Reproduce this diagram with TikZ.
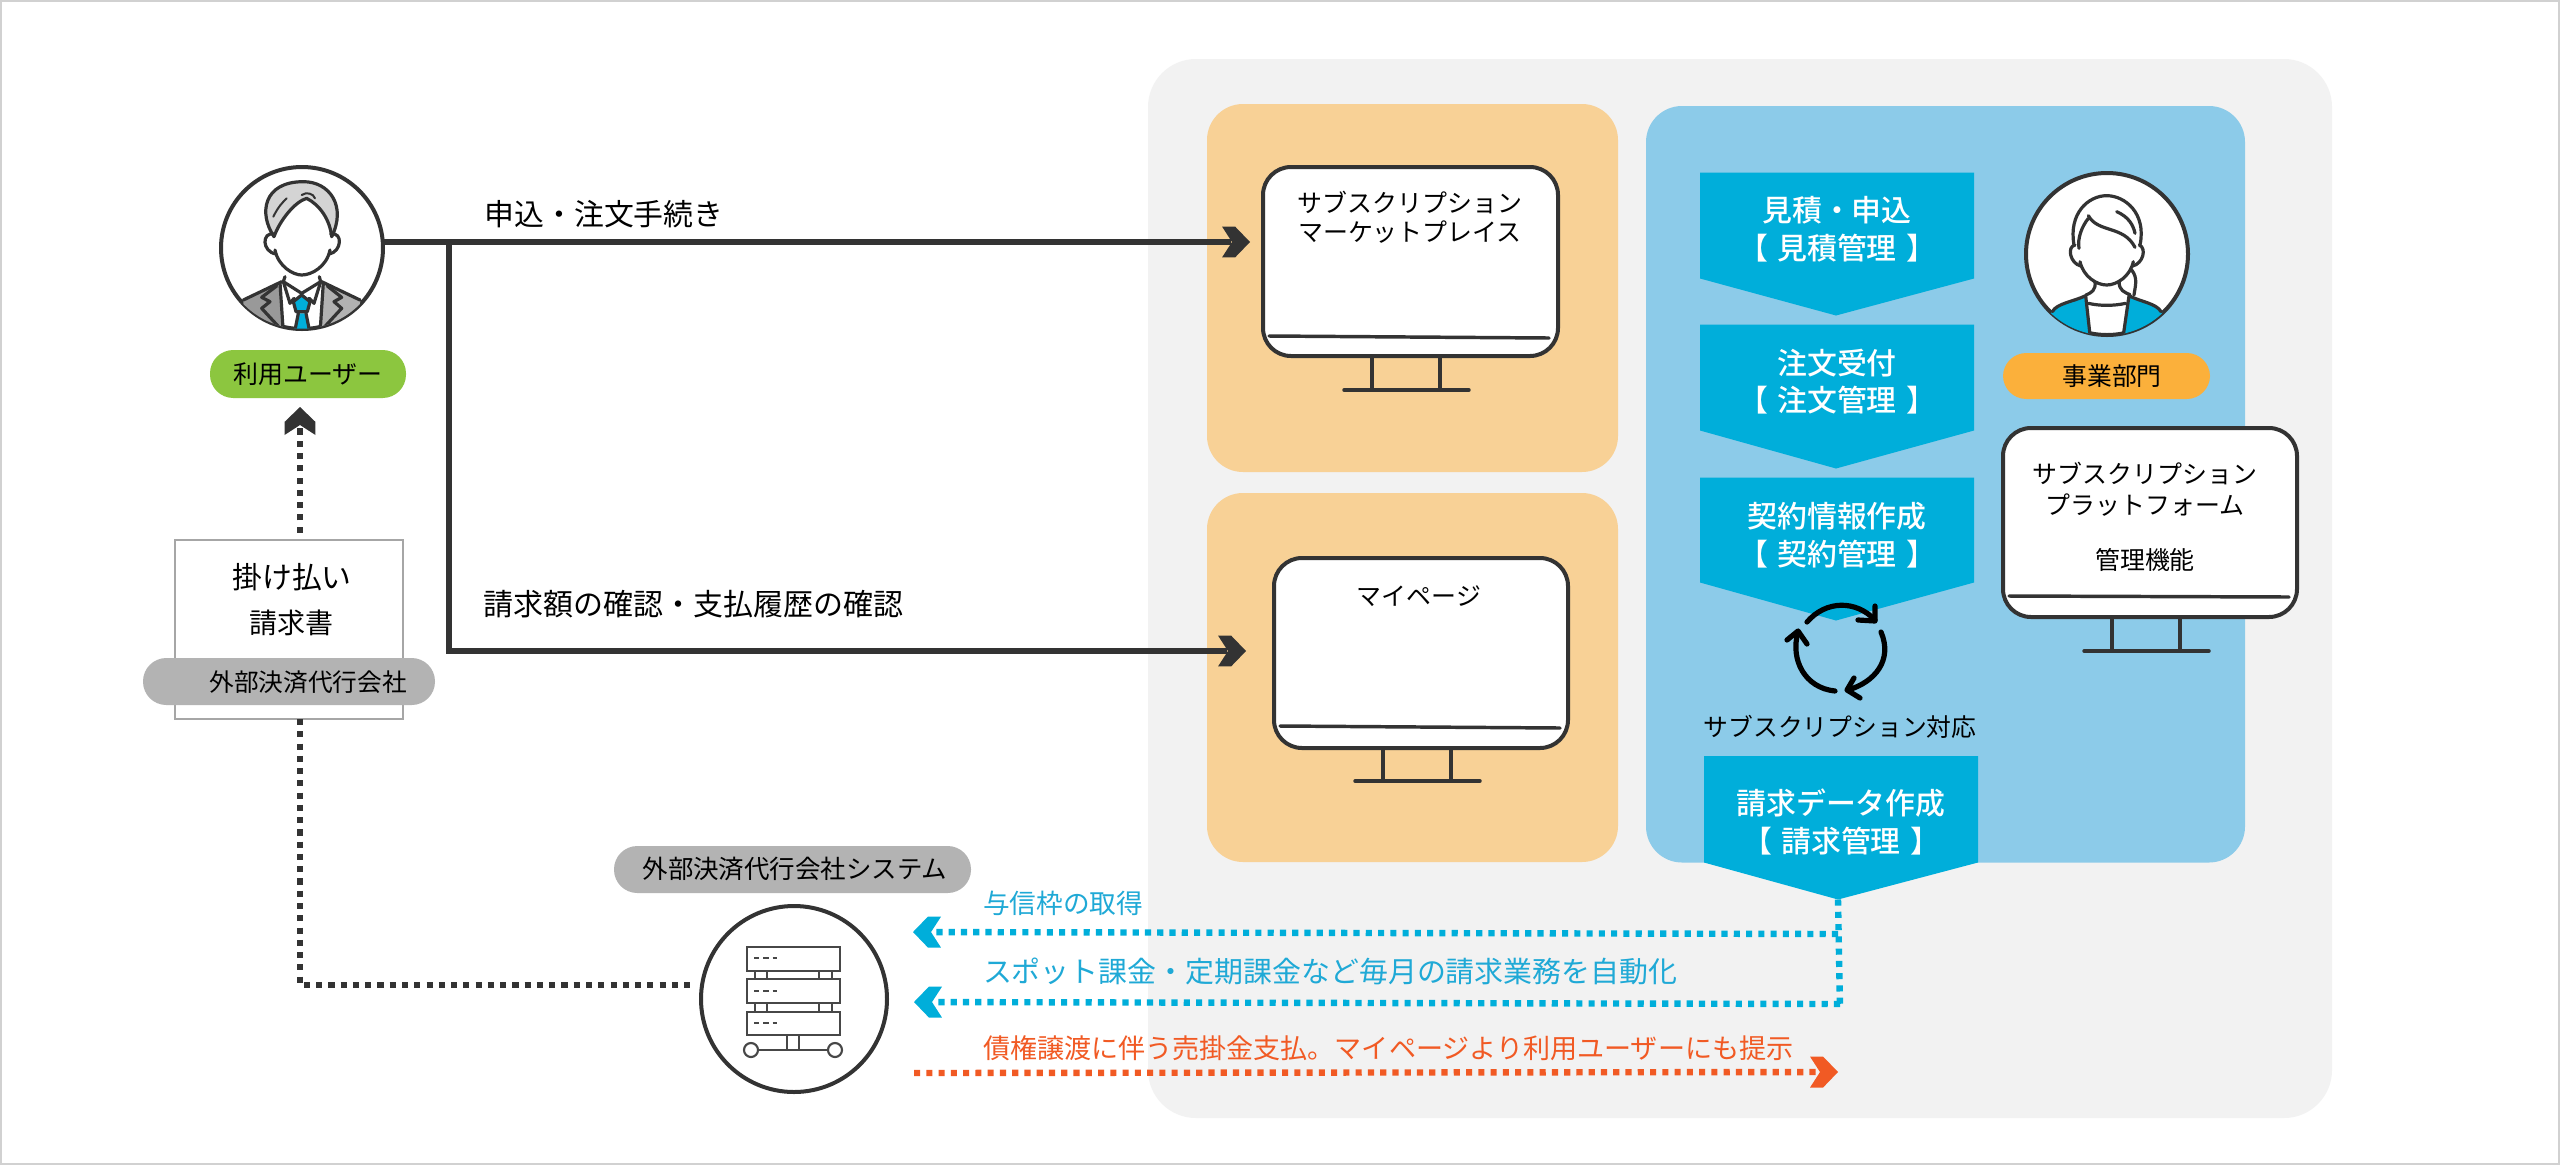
\documentclass[tikz,border=0pt]{standalone}
\usepackage{fontspec}
\setmainfont{Noto Sans CJK JP}
\newfontfamily\medfont{Noto Sans CJK JP Medium}
\usetikzlibrary{arrows.meta}
\definecolor{dk}{HTML}{333333}
\definecolor{panel}{HTML}{F2F2F2}
\definecolor{orpanel}{HTML}{F8D196}
\definecolor{blpanel}{HTML}{8CCBE9}
\definecolor{cy}{HTML}{00AEDA}
\definecolor{cytxt}{HTML}{1FA9D6}
\definecolor{grn}{HTML}{8CC63F}
\definecolor{amb}{HTML}{FBB03B}
\definecolor{gry}{HTML}{B3B3B3}
\definecolor{orn}{HTML}{F15A24}
\pgfdeclarearrow{
  name=Chev,
  setup code={
    \pgfarrowssettipend{0pt}
    \pgfarrowssetlineend{-14pt}
    \pgfarrowssetvisualbackend{-14pt}
    \pgfarrowssetbackend{-21pt}
    \pgfarrowshullpoint{0pt}{0pt}
    \pgfarrowsupperhullpoint{-21pt}{11.6pt}
  },
  drawing code={
    \pgfpathmoveto{\pgfpoint{0pt}{0pt}}
    \pgfpathlineto{\pgfpoint{-11.2pt}{11.6pt}}
    \pgfpathlineto{\pgfpoint{-21pt}{11.6pt}}
    \pgfpathlineto{\pgfpoint{-13.5pt}{0pt}}
    \pgfpathlineto{\pgfpoint{-21pt}{-11.6pt}}
    \pgfpathlineto{\pgfpoint{-11.2pt}{-11.6pt}}
    \pgfpathclose
    \pgfusepathqfill
  }
}
\tikzset{
  fs/.style={font=\fontsize{#1}{#1}\selectfont},
  sized/.style 2 args={minimum width=#1*0.75pt,minimum height=#2*0.75pt,inner sep=0pt,outer sep=0pt},
  txt/.style={inner sep=0pt,outer sep=0pt,align=center,text=black},
  pill/.style={rounded corners=17.5pt,fill=#1},
  roundpanel/.style={rounded corners=#1*0.75pt},
  solidconn/.style={color=dk,line width=5pt,-{Chev},line join=miter},
  dotconn/.style={line width=4.8pt,dash pattern=on 4.6pt off 4.6pt},
  monitor/.style={draw=dk,fill=white,line width=3pt,rounded corners=21pt},
  standline/.style={draw=dk,line width=2.6pt,line cap=round},
  srv/.style={draw=dk!90,line width=1.6pt},
  headring/.style={circle,draw=dk,fill=white,line width=3pt,minimum size=162*0.75pt,inner sep=0pt,outer sep=0pt},
  ic/.style={draw=dk,line width=2.4pt,line cap=round,line join=round},
  chevbox/.style={fill=cy},
  boxtxt/.style={txt,text=white,font=\medfont\fontsize{22.4}{22.4}\selectfont},
  cyc/.style={draw=black,line width=3.9pt,line cap=round,line join=round},
}
\newcommand{\brk}[1]{【\hspace{7pt}#1\hspace{7pt}】}
\begin{document}
\begin{tikzpicture}[x=0.75pt,y=-0.75pt]
\path[use as bounding box] (0,0) rectangle (2560,1165);
\fill[white] (0,0) rectangle (2560,1165);
\draw[draw=black!18,line width=1pt] (1,1) rectangle (2559,1164);
% panels
\fill[panel,roundpanel=48] (1148,59) rectangle (2332,1118);
\fill[orpanel,roundpanel=36] (1207,104) rectangle (1618,472);
\fill[orpanel,roundpanel=36] (1207,493) rectangle (1618,862);
\fill[blpanel,roundpanel=36] (1646,106) rectangle (2245,862.5);

% monitors
\node[monitor,sized={295}{189}] (m1) at (1410.5,261.5) {};
\node[monitor,sized={294}{190}] (m2) at (1421,653) {};
\node[monitor,sized={294}{189}] (m3) at (2150,522.5) {};
\draw[standline] (1269,336) -- (1549,338);
\draw[standline] (1372,356) -- (1372,390) (1440,356) -- (1440,390) (1344,390) -- (1469,390);
\draw[standline] (1280,726) -- (1560,728);
\draw[standline] (1383,748) -- (1383,781) (1451,748) -- (1451,781) (1355,781) -- (1480,781);
\draw[standline] (2009,596) -- (2289,597);
\draw[standline] (2112,617) -- (2112,651) (2180,617) -- (2180,651) (2084,651) -- (2209,651);
\node[txt,fs=18.7] (m1a) at (1410,203) {サブスクリプション};
\node[txt,fs=18.7] (m1b) at (1410,232) {マーケットプレイス};
\node[txt,fs=18.7] (m2a) at (1419,596) {マイページ};
\node[txt,fs=18.7] (m3a) at (2145,474) {サブスクリプション};
\node[txt,fs=18.7] (m3b) at (2145,505) {プラットフォーム};
\node[txt,fs=18.7] (m3c) at (2145,560) {管理機能};

% chevron boxes
\fill[chevbox] (1700,172.5) -- (1974,172.5) -- (1974,278.5) -- (1836,315.5) -- (1700,278.5) -- cycle;
\fill[chevbox] (1700,324.5) -- (1974,324.5) -- (1974,430.5) -- (1836,468.5) -- (1700,430.5) -- cycle;
\fill[chevbox] (1700,477.5) -- (1974,477.5) -- (1974,582.5) -- (1836,620.5) -- (1700,582.5) -- cycle;
\fill[chevbox] (1704,756) -- (1978,756) -- (1978,862.5) -- (1838,899.5) -- (1704,862.5) -- cycle;
\coordinate (b4tip) at (1838,899.5);
\node[boxtxt] (b1a) at (1837,210) {見積・申込};
\node[boxtxt] (b1b) at (1837,248) {\brk{見積管理}};
\node[boxtxt] (b2a) at (1837,363) {注文受付};
\node[boxtxt] (b2b) at (1837,400) {\brk{注文管理}};
\node[boxtxt] (b3a) at (1837,516) {契約情報作成};
\node[boxtxt] (b3b) at (1837,554) {\brk{契約管理}};
\node[boxtxt] (b4a) at (1841,803) {請求データ作成};
\node[boxtxt] (b4b) at (1841,841) {\brk{請求管理}};

% cycle icon
\draw[cyc] (1807,622) .. controls (1826,600) and (1856,600) .. (1875,620);
\draw[cyc] (1858,620) -- (1875,621) -- (1875,606);
\draw[cyc] (1881,632) .. controls (1893,660) and (1875,682) .. (1848,690);
\draw[cyc] (1854,678) -- (1847,690) -- (1860,698);
\draw[cyc] (1835,691) .. controls (1805,688) and (1790,660) .. (1798,632);
\draw[cyc] (1787,640) -- (1798,631) -- (1807,644);
\node[txt,fs=18.6] (cyctxt) at (1840,727) {サブスクリプション対応};

% man icon
\node[headring] (user) at (302,248) {};
\begin{scope}[shift={(130,130)},x=0.25pt,y=-0.25pt]
  \begin{scope}
    \clip (515,353) circle (243);
    \fill[black!40] (340,510) -- (450,458) -- (460,610) -- (340,610) -- cycle;
    \fill[black!30] (690,510) -- (580,458) -- (570,610) -- (690,610) -- cycle;
    \draw[ic] (340,510) -- (455,455) (690,510) -- (575,455);
    \draw[ic] (440,468) -- (395,502) -- (420,515) -- (395,535) -- (455,600);
    \draw[ic] (592,468) -- (635,502) -- (612,515) -- (635,535) -- (575,600);
    \draw[ic] (450,458) -- (460,610) (580,458) -- (570,610);
    \fill[cy] (515,495) -- (490,515) -- (498,545) -- (532,545) -- (540,515) -- cycle;
    \fill[cy] (505,550) -- (528,550) -- (540,605) -- (490,605) -- cycle;
    \draw[ic] (515,495) -- (490,515) -- (498,545) -- (532,545) -- (540,515) -- cycle;
    \draw[ic] (505,550) -- (495,600) (528,550) -- (538,600);
    \draw[ic] (465,440) -- (460,455) -- (515,490) -- (572,455) -- (568,440);
    \draw[ic] (460,455) -- (480,520) -- (492,505) (572,455) -- (552,520) -- (538,505);
  \end{scope}
  \fill[black!17] (432,320) .. controls (385,250) and (400,155) .. (520,155) .. controls (600,155) and (650,230) .. (605,320) .. controls (600,270) and (570,225) .. (530,205) .. controls (495,215) and (450,270) .. (432,320) -- cycle;
  \draw[ic] (432,320) .. controls (385,250) and (400,155) .. (520,155) .. controls (600,155) and (650,230) .. (605,320);
  \draw[ic] (432,320) .. controls (450,270) and (495,215) .. (530,205) .. controls (570,225) and (600,270) .. (605,320);
  \draw[ic,line width=1.5pt] (430,260) .. controls (445,230) and (455,220) .. (470,205);
  \draw[ic,line width=1.5pt] (515,195) .. controls (530,185) and (550,190) .. (555,205);
  \draw[ic] (435,360) .. controls (445,410) and (490,435) .. (515,435) .. controls (545,435) and (590,410) .. (600,360);
  \draw[ic] (432,312) .. controls (395,305) and (395,365) .. (438,372);
  \draw[ic] (602,312) .. controls (640,305) and (635,365) .. (598,372);
\end{scope}
\node[pill=grn,sized={196}{48}] (userpill) at (308,374) {};
\node[txt,fs=18.7] (usertxt) at (308,374) {利用ユーザー};

% woman icon
\node[headring] (biz) at (2107,254) {};
\begin{scope}[shift={(1960,150)},x=0.25pt,y=-0.25pt]
  \begin{scope}
    \clip (440,313) circle (243);
    \fill[cy] (272,490) .. controls (285,460) and (340,455) .. (377,437) -- (390,560) -- (272,560) -- cycle;
    \fill[cy] (608,490) .. controls (595,460) and (540,455) .. (507,437) -- (490,560) -- (608,560) -- cycle;
    \draw[ic] (277,485) .. controls (290,460) and (340,455) .. (377,437) -- (390,555);
    \draw[ic] (603,485) .. controls (590,460) and (540,455) .. (507,437) -- (490,555);
    \draw[ic] (385,460) .. controls (420,468) and (460,468) .. (497,460);
  \end{scope}
  \draw[ic] (342,285) .. controls (325,190) and (385,137) .. (440,137) .. controls (495,137) and (560,190) .. (540,285);
  \draw[ic] (385,197) .. controls (415,250) and (490,225) .. (525,292);
  \draw[ic] (385,205) .. controls (365,230) and (352,265) .. (357,295);
  \draw[ic] (470,185) .. controls (505,200) and (520,225) .. (525,250);
  \draw[ic] (360,335) .. controls (370,380) and (410,405) .. (440,405) .. controls (470,405) and (510,380) .. (520,335);
  \draw[ic] (345,285) .. controls (320,290) and (330,340) .. (362,348);
  \draw[ic] (538,285) .. controls (560,295) and (550,340) .. (518,348);
  \draw[ic] (405,395) .. controls (408,420) and (395,428) .. (378,435);
  \draw[ic] (478,395) .. controls (475,420) and (495,428) .. (510,434);
  \draw[ic] (515,360) .. controls (535,385) and (525,410) .. (522,435);
\end{scope}
\node[pill=amb,sized={207}{46}] (bizpill) at (2106.5,376) {};
\node[txt,fs=18.6] (biztxt) at (2112,376) {事業部門};

% invoice
\coordinate (invtop) at (300,545);
\coordinate (invup) at (300,407);
\draw[color=dk,dotconn,-{Chev}] (invtop) -- (invup);
\node[draw=black!35,line width=1.5pt,fill=white,sized={228}{179}] (inv) at (289,629.5) {};
\node[txt,fs=22.4] (inva) at (292,577) {掛け払い};
\node[txt,fs=21] (invb) at (291,623) {請求書};
\node[pill=gry,sized={292}{47}] (vendorpill) at (289,681.5) {};
\node[txt,fs=18.5] (vendortxt) at (308,682) {外部決済代行会社};

% server
\node[circle,draw=dk,line width=3pt,fill=white,minimum size=186*0.75pt,inner sep=0pt,outer sep=0pt] (srvc) at (794,999) {};
\draw[srv] (755,971) rectangle (767,979) (819,971) rectangle (832,979);
\draw[srv] (755,1003) rectangle (767,1012) (819,1003) rectangle (832,1012);
\draw[srv] (747,947) rectangle (840,971);
\draw[srv] (747,979) rectangle (840,1003);
\draw[srv] (747,1012) rectangle (840,1035);
\draw[srv,dash pattern=on 4pt off 3pt] (754,958) -- (777,958);
\draw[srv,dash pattern=on 4pt off 3pt] (754,991) -- (777,991);
\draw[srv,dash pattern=on 4pt off 3pt] (754,1023) -- (777,1023);
\draw[srv] (787,1035) -- (787,1050) (799,1035) -- (799,1050);
\draw[srv] (758,1050) -- (828,1050);
\draw[srv] (751,1050) circle (7);
\draw[srv] (835,1050) circle (7);
\node[pill=gry,sized={357}{47}] (syspill) at (792.5,869.5) {};
\node[txt,fs=19.1] (systxt) at (795,869) {外部決済代行会社システム};

% main connectors
\coordinate (u0) at (383,242);
\coordinate (u1) at (1250,242);
\coordinate (u2) at (449,242);
\coordinate (u3) at (449,651);
\coordinate (u4) at (1246,651);
\draw[solidconn] (u0) -- (u1);
\draw[solidconn] (u2) -- (u3) -- (u4);
\node[txt,fs=22.4] (l1) at (604,214) {申込・注文手続き};
\node[txt,fs=22.5] (l2) at (693,604) {請求額の確認・支払履歴の確認};

% dotted connectors
\coordinate (g1) at (300,985);
\draw[dk,dotconn] (300,719) -- (g1) -- ([xshift=-6pt]srvc.west |- g1);
\coordinate (c1) at (1838,934);
\coordinate (c2) at (1840,1004);
\coordinate (c3) at (1840,1009);
\draw[cy,dotconn] (b4tip) -- (c3);
\draw[color=cy,dotconn,-{Chev[scale=0.6]}] (c1) -- (913,932);
\draw[color=cy,dotconn,-{Chev[scale=0.6]}] (c2) -- (914,1002);
\draw[color=orn,dotconn,-{Chev[scale=0.6]}] (914,1073) -- (1838,1072);
\node[txt,text=cytxt,fs=20,anchor=west] (t1) at (983,903) {与信枠の取得};
\node[txt,text=cytxt,fs=21.7,anchor=west] (t2) at (983,971) {スポット課金・定期課金など毎月の請求業務を自動化};
\node[txt,text=orn,fs=20.3,anchor=west] (t3) at (983,1048) {債権譲渡に伴う売掛金支払。マイページより利用ユーザーにも提示};
\end{tikzpicture}
\end{document}
